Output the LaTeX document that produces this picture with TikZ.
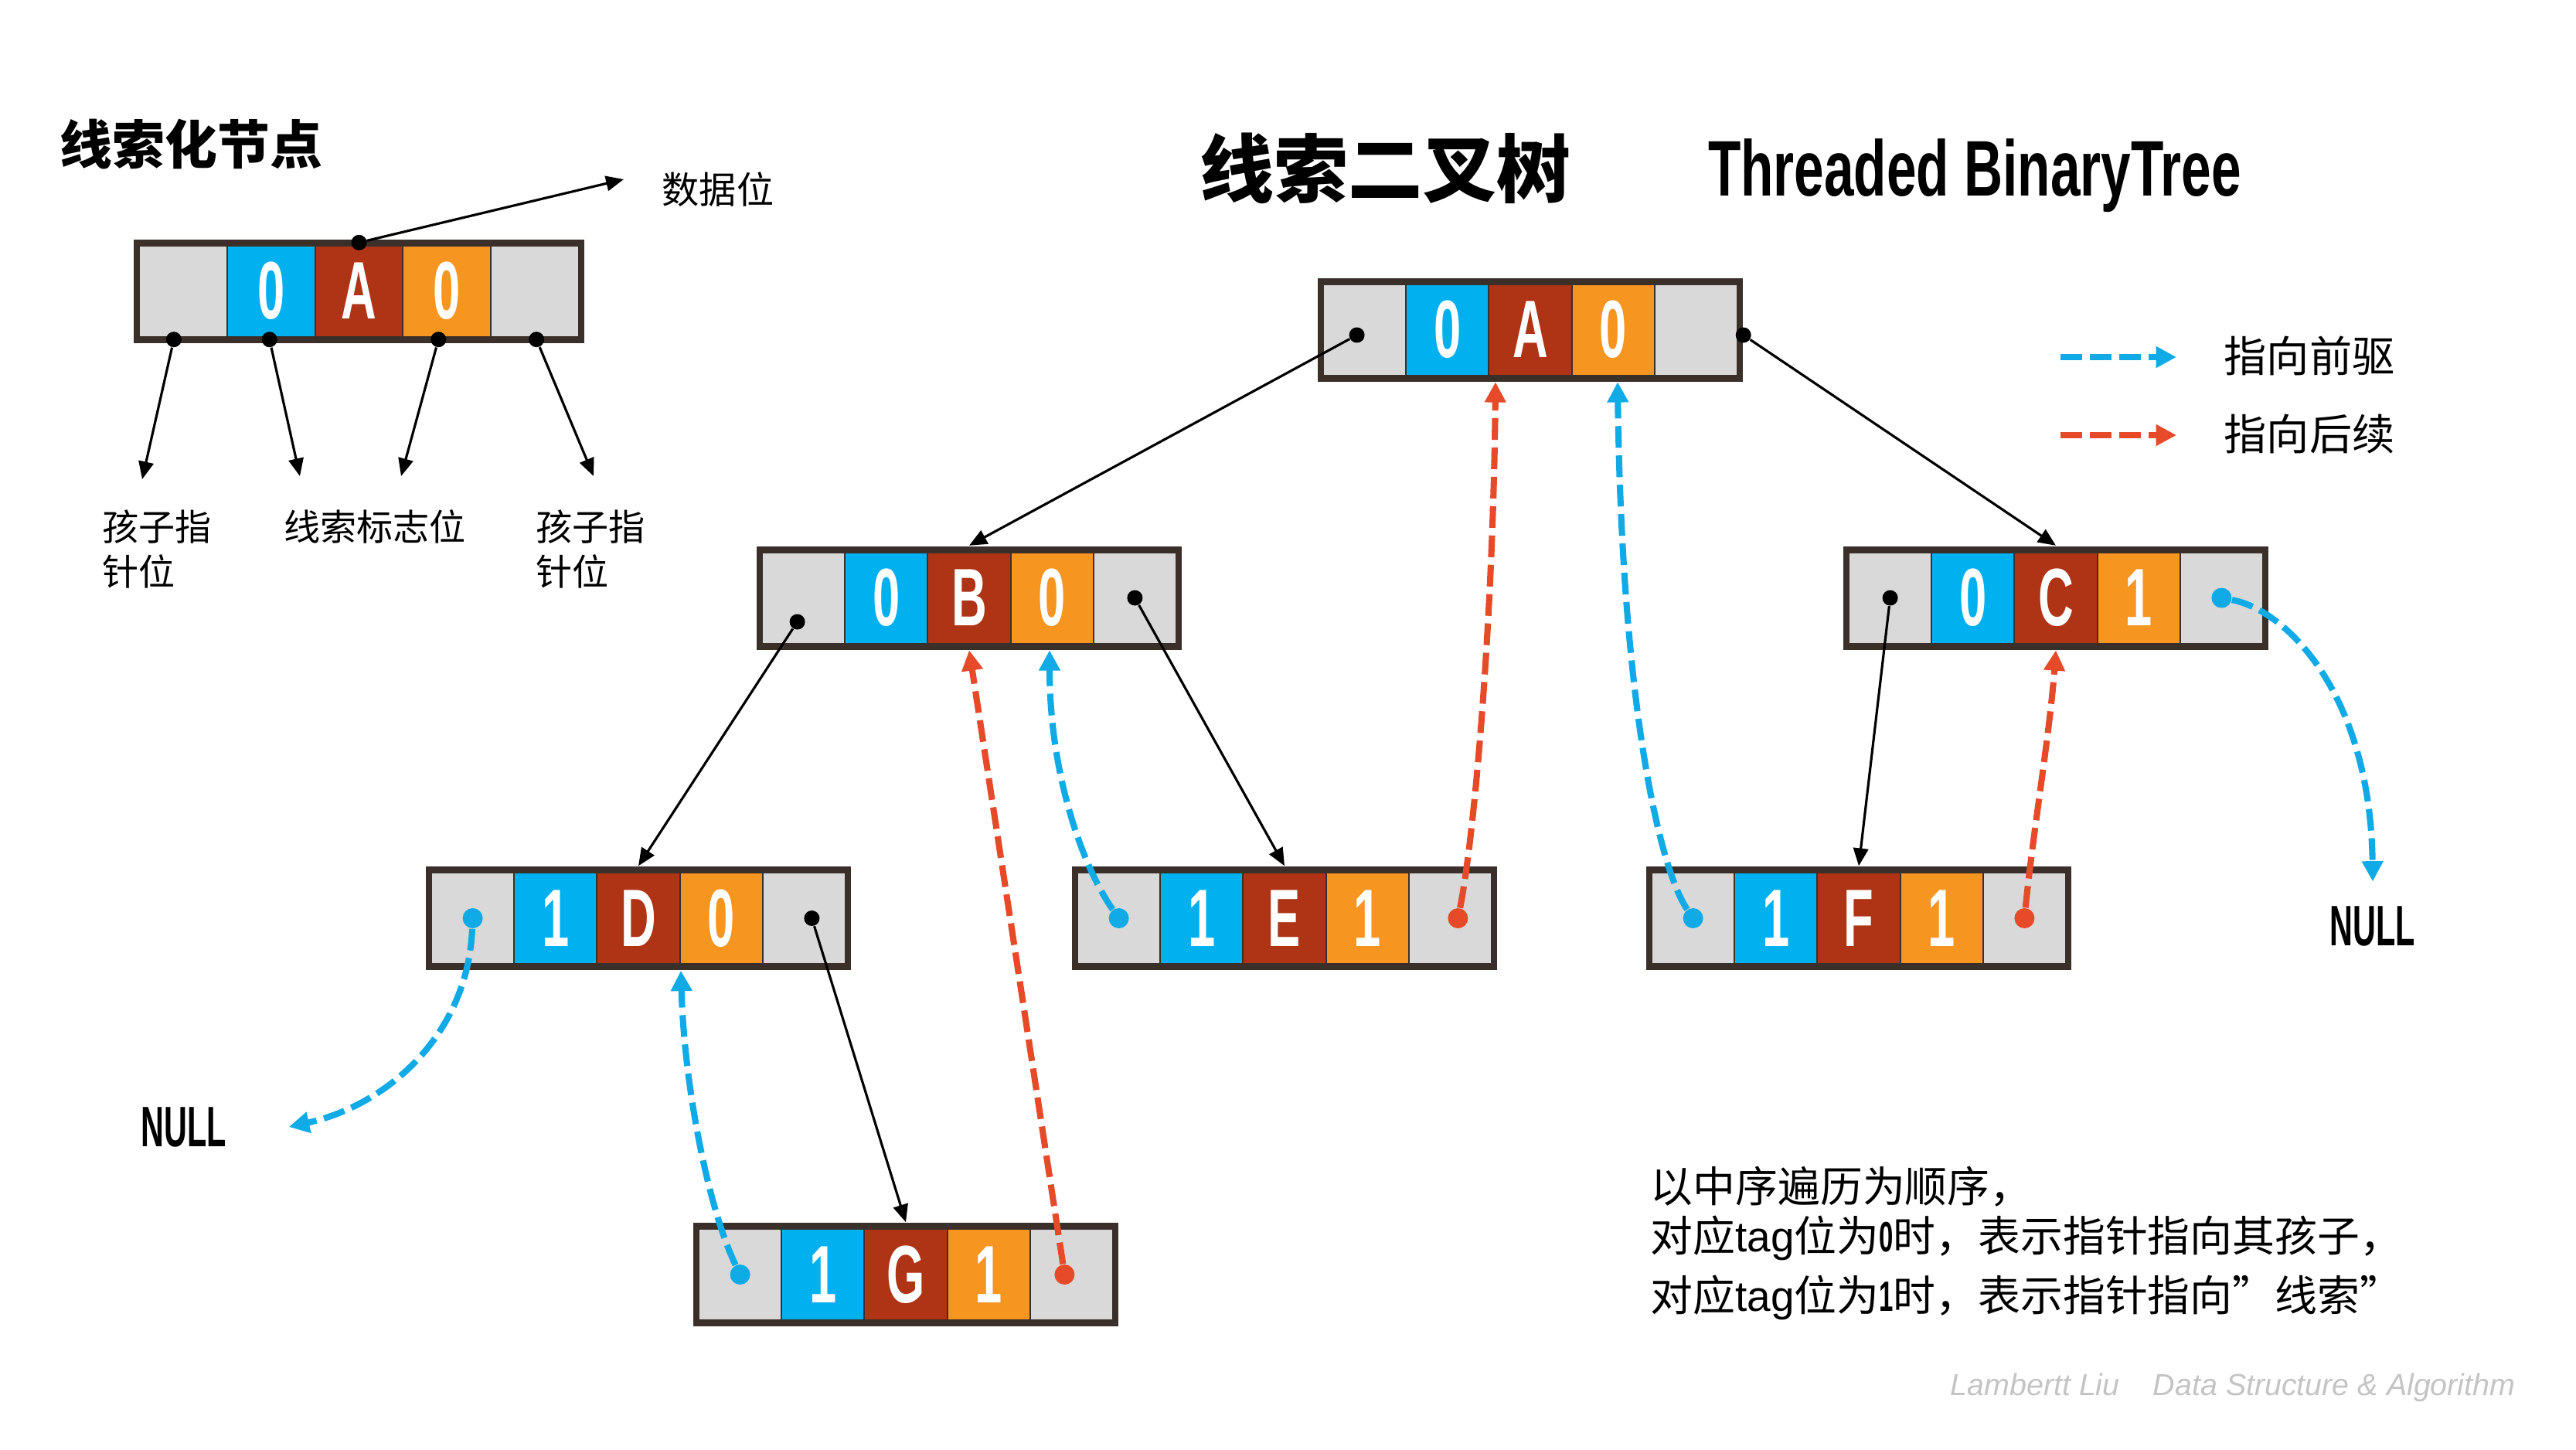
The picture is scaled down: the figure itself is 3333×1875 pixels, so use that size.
\documentclass[tikz,border=0pt]{standalone}
\usepackage{fontspec}
\usepackage{graphicx}
\setmainfont{Liberation Sans}
\newfontfamily\cjk{Noto Sans CJK SC}
\usetikzlibrary{arrows.meta,calc}
\definecolor{cgray}{HTML}{D9D9D9}
\definecolor{cblue}{HTML}{00B0EF}
\definecolor{cred}{HTML}{AF3315}
\definecolor{corange}{HTML}{F6951F}
\definecolor{cborder}{HTML}{3A3029}
\definecolor{tblue}{HTML}{10AAE6}
\definecolor{tred}{HTML}{E64A28}
\definecolor{wmgray}{HTML}{C4C4C4}
\newcommand{\cnd}[2][0.6]{\scalebox{#1}[1]{\normalfont\bfseries #2}}
\newcommand{\TBox}[7]{%
  \pgfmathsetmacro{\tbcw}{(#4-24)/5}%
  \pgfmathsetmacro{\tbcs}{\tbcw+2}%
  \node[outerbox, minimum width=#4*0.01cm] (#1) at (#2,#3) {};
  \node[cellbox, fill=cgray, minimum width=\tbcw*0.01cm] (#1-1) at ($(#1.center)+(-2*\tbcs,0)$) {};
  \node[cellbox, fill=cblue, minimum width=\tbcw*0.01cm] (#1-2) at ($(#1.center)+(-\tbcs,0)$) {\cnd{#5}};
  \node[cellbox, fill=cred, minimum width=\tbcw*0.01cm] (#1-3) at (#1.center) {\cnd{#6}};
  \node[cellbox, fill=corange, minimum width=\tbcw*0.01cm] (#1-4) at ($(#1.center)+(\tbcs,0)$) {\cnd{#7}};
  \node[cellbox, fill=cgray, minimum width=\tbcw*0.01cm] (#1-5) at ($(#1.center)+(2*\tbcs,0)$) {};
}
\tikzset{
  outerbox/.style={rectangle, fill=cborder, draw=none, inner sep=0, minimum height=134*0.01cm},
  cellbox/.style={rectangle, draw=none, inner sep=0, minimum height=116*0.01cm, text=white,
    font=\fontsize{30pt}{30pt}\selectfont},
  bdot/.style={circle, fill=black, inner sep=0, minimum size=0.2cm},
  tdotb/.style={circle, fill=tblue, inner sep=0, minimum size=0.26cm},
  tdotr/.style={circle, fill=tred, inner sep=0, minimum size=0.26cm},
  treeline/.style={line width=0.9pt, black, -{Triangle[length=6.5pt,width=5.5pt]}},
  thr/.style={line width=2.3pt, dash pattern=on 8pt off 2.8pt, -{Triangle[length=7.5pt,width=7.5pt]}},
  lbl/.style={inner sep=0, font=\cjk\fontsize{13.4pt}{16.5pt}\selectfont},
}
\begin{document}
\begin{tikzpicture}[x=0.01cm, y=-0.01cm]
\useasboundingbox (0,0) rectangle (3333,1875);
\fill[white] (0,0) rectangle (3333,1875);

% ---------- legend node ----------
\node[inner sep=0, anchor=west, font=\cjk\bfseries\fontsize{19.3pt}{22pt}\selectfont] (ttlL) at (77,187) {线索化节点};
\TBox{L}{464.5}{376.5}{583}{0}{A}{0}
\node[lbl, anchor=west, font=\cjk\fontsize{13.7pt}{16pt}\selectfont] (lblData) at (856,245) {数据位};
\node[lbl, align=left] (lblP1) at (203,710) {孩子指\\针位};
\node[lbl] (lblTag) at (485,681) {线索标志位};
\node[lbl, align=left] (lblP2) at (764,710) {孩子指\\针位};
\coordinate (pData) at (807,232);
\coordinate (pL1) at (184,620);
\coordinate (pL2) at (388,616);
\coordinate (pL3) at (519,616);
\coordinate (pL4) at (768,616);
\node[bdot] (dL0) at ($(L.north)+(0,5)$) {};
\node[bdot] (dL1) at ($(L-1 |- L.south)+(-12,-5)$) {};
\node[bdot] (dL2) at ($(L-2 |- L.south)+(-2,-5)$) {};
\node[bdot] (dL3) at ($(L-4 |- L.south)+(-11,-5)$) {};
\node[bdot] (dL4) at ($(L-5 |- L.south)+(2,-5)$) {};
\draw[treeline] (dL0) -- (pData);
\draw[treeline] (dL1) -- (pL1);
\draw[treeline] (dL2) -- (pL2);
\draw[treeline] (dL3) -- (pL3);
\draw[treeline] (dL4) -- (pL4);

% ---------- titles ----------
\node[inner sep=0, font=\cjk\bfseries\fontsize{27.3pt}{30pt}\selectfont] (title) at (1792,218) {线索二叉树};
\node[inner sep=0, anchor=base, font=\fontsize{29pt}{30pt}\selectfont] (titleEn) at (2555,253) {\cnd[0.68]{Threaded BinaryTree}};

% ---------- key ----------
\node[inner sep=0, anchor=west, font=\cjk\fontsize{15.7pt}{18pt}\selectfont] (lgPre) at (2877,460) {指向前驱};
\node[inner sep=0, anchor=west, font=\cjk\fontsize{15.7pt}{18pt}\selectfont] (lgSuc) at (2877,562) {指向后续};
\coordinate (lgPreS) at (2666,462);
\coordinate (lgPreE) at (2816,462);
\coordinate (lgSucS) at (2666,563);
\coordinate (lgSucE) at (2816,563);
\draw[thr, tblue] (lgPreS) -- (lgPreE);
\draw[thr, tred] (lgSucS) -- (lgSucE);

% ---------- tree nodes ----------
\TBox{A}{1980}{426.5}{550}{0}{A}{0}
\TBox{B}{1254}{773.5}{550}{0}{B}{0}
\TBox{C}{2660}{773.5}{550}{0}{C}{1}
\TBox{D}{826}{1188}{550}{1}{D}{0}
\TBox{E}{1662}{1188}{550}{1}{E}{1}
\TBox{F}{2405}{1188}{550}{1}{F}{1}
\TBox{G}{1172}{1649}{550}{1}{G}{1}

\node[inner sep=0, anchor=base, font=\fontsize{21pt}{21pt}\selectfont] (nullL) at (238,1483) {\cnd[0.56]{NULL}};
\node[inner sep=0, anchor=base, font=\fontsize{21pt}{21pt}\selectfont] (nullR) at (3070,1223) {\cnd[0.56]{NULL}};

% dots
\node[bdot] (dA1) at ($(A-1.center)+(-10,7)$) {};
\node[bdot] (dA5) at ($(A.east)+(0,7)$) {};
\node[bdot] (dB1) at ($(B-1.center)+(-8,31)$) {};
\node[bdot] (dB5) at (B-5.center) {};
\node[bdot] (dC1) at (C-1.center) {};
\node[tdotb] (dC5) at (C-5.center) {};
\node[tdotb] (dD1) at (D-1.center) {};
\node[bdot] (dD5) at ($(D-5.center)+(10,0)$) {};
\node[tdotb] (dE1) at (E-1.center) {};
\node[tdotr] (dE5) at ($(E-5.center)+(10,0)$) {};
\node[tdotb] (dF1) at (F-1.center) {};
\node[tdotr] (dF5) at (F-5.center) {};
\node[tdotb] (dG1) at (G-1.center) {};
\node[tdotr] (dG5) at ($(G-5.center)+(-9,0)$) {};

% child pointers
\draw[treeline] (dA1) -- (B.north);
\draw[treeline] (dA5) -- (C.north);
\draw[treeline] (dB1) -- (D.north);
\draw[treeline] (dB5) -- (E.north);
\draw[treeline] (dD5) -- (G.north);
\draw[treeline] (dC1) -- (F.north);

% threads
\draw[thr, tblue] (dD1) .. controls (605,1340) and (500,1430) .. ($(nullL.east)+(80,0)$);
\draw[thr, tblue] (dG1) .. controls (915,1560) and (885,1400) .. ($(D.south)+(55,0)$);
\draw[thr, tred] (dG5) -- (B.south);
\draw[thr, tblue] (dE1) .. controls (1400,1120) and (1358,1000) .. ($(B.south)+(104,0)$);
\draw[thr, tred] (dE5) .. controls (1908,1080) and (1932,800) .. ($(A.south)+(-45,0)$);
\draw[thr, tblue] (dF1) .. controls (2145,1120) and (2098,900) .. ($(A.south)+(113,0)$);
\draw[thr, tred] (dF5) .. controls (2630,1080) and (2652,950) .. (C.south);
\draw[thr, tblue] (dC5) .. controls (2960,790) and (3067,900) .. ($(nullR.north)+(0,-31)$);

% ---------- explanation ----------
\node[inner sep=0, anchor=west, font=\cjk\fontsize{15.6pt}{18pt}\selectfont] (ex1) at (2135,1535) {以中序遍历为顺序，};
\node[inner sep=0, anchor=west, font=\cjk\fontsize{15.6pt}{18pt}\selectfont] (ex2) at (2135,1602) {对应{\normalfont tag}位为\cnd{0}时，表示指针指向其孩子，};
\node[inner sep=0, anchor=west, font=\cjk\fontsize{15.6pt}{18pt}\selectfont] (ex3) at (2135,1679) {对应{\normalfont tag}位为\cnd{1}时，表示指针指向”线索”};

\node[inner sep=0, anchor=base west, text=wmgray, font=\fontsize{11.2pt}{13pt}\selectfont\itshape] (wm) at (2523,1805) {Lambertt Liu\hspace{1.1em}Data Structure \& Algorithm};
\end{tikzpicture}
\end{document}
